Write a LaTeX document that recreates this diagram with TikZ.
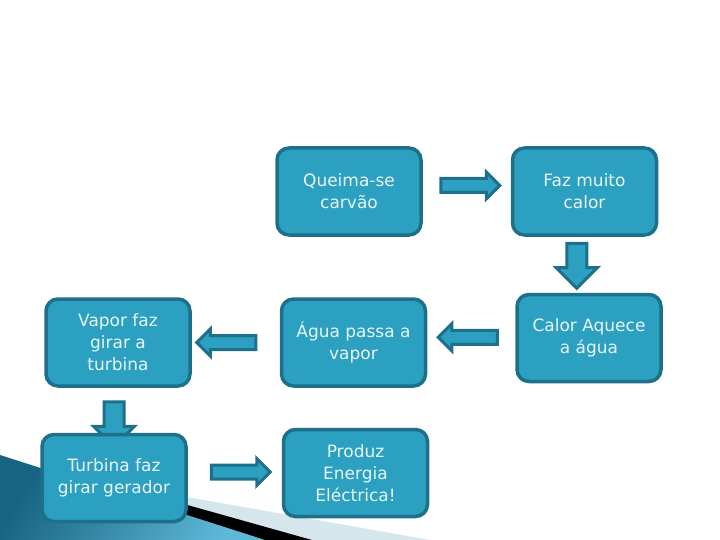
\documentclass[tikz,border=0pt]{standalone}
\usepackage{fontspec}
\setmainfont{DejaVu Sans}
\usepackage{xcolor}
\usepackage{tikz}
\usetikzlibrary{shapes.arrows, positioning, backgrounds}
\definecolor{boxfill}{RGB}{44, 160, 192}
\definecolor{boxline}{RGB}{30, 112, 138}
\definecolor{boxtext}{RGB}{232, 246, 250}
\definecolor{stripe}{RGB}{213, 230, 236}
\definecolor{wedgedark}{RGB}{22, 100, 130}
\definecolor{wedgelight}{RGB}{96, 184, 216}

\begin{document}
\begin{tikzpicture}[
    x=1pt, y=-1pt,
    stage/.style={rectangle, rounded corners=12pt, draw=boxline, fill=boxfill, line width=3.5pt,
        minimum width=144pt, minimum height=87pt, align=center, text=boxtext,
        font=\fontsize{17}{22}\selectfont},
    flowarrow/.style={single arrow, draw=boxline, fill=boxfill, line width=3pt,
        inner sep=5.5pt, single arrow head extend=6.5pt, minimum height=59pt},
    downarrow/.style={single arrow, draw=boxline, fill=boxfill, line width=3pt,
        inner sep=8.5pt, single arrow head extend=10.5pt, minimum height=45pt,
        shape border rotate=270}
]
    \useasboundingbox (0,0) rectangle (720,540);

    % Stages
    \node[stage] at (349,191.5) (queima) {Queima-se\\carvão};
    \node[stage, right=88pt of queima] (faz) {Faz muito\\calor};
    \node[stage, below=56pt of faz, xshift=4.5pt] (calor) {Calor Aquece\\a água};
    \node[stage, left=88pt of calor, yshift=-4.5pt] (agua) {Água passa a\\vapor};
    \node[stage, left=88pt of agua] (vapor) {Vapor faz\\girar a\\turbina};
    \node[stage, below=45pt of vapor, xshift=-4pt] (turbina) {Turbina faz\\girar gerador};
    \node[stage, right=94pt of turbina, yshift=5pt] (produz) {Produz\\Energia\\Eléctrica!};

    \begin{scope}[on background layer]
        % Slide decoration
        \fill[stripe] (150,490.5) -- (430,540) -- (150,540) -- cycle;
        \fill[black] (150,494.5) -- (312,540) -- (150,540) -- cycle;
        \shade[left color=wedgedark, right color=wedgelight, shading angle=60]
            (0,455) -- (265,540) -- (0,540) -- cycle;

        % Arrows
        \path (queima) -- (faz) node[flowarrow, midway, yshift=6pt] (a1) {};
        \path (faz) -- (calor) node[downarrow, midway, xshift=-10pt, yshift=4pt] (a2) {};
        \path (calor) -- (agua) node[flowarrow, midway, yshift=3pt, shape border rotate=180] (a3) {};
        \path (agua) -- (vapor) node[flowarrow, midway, xshift=-6pt, shape border rotate=180] (a4) {};
        \path (vapor) -- (turbina) node[downarrow, midway, xshift=-2pt, yshift=-9pt] (a5) {};
        \path (turbina) -- (produz) node[flowarrow, midway, xshift=2.5pt, yshift=3.5pt] (a6) {};
    \end{scope}
\end{tikzpicture}
\end{document}
